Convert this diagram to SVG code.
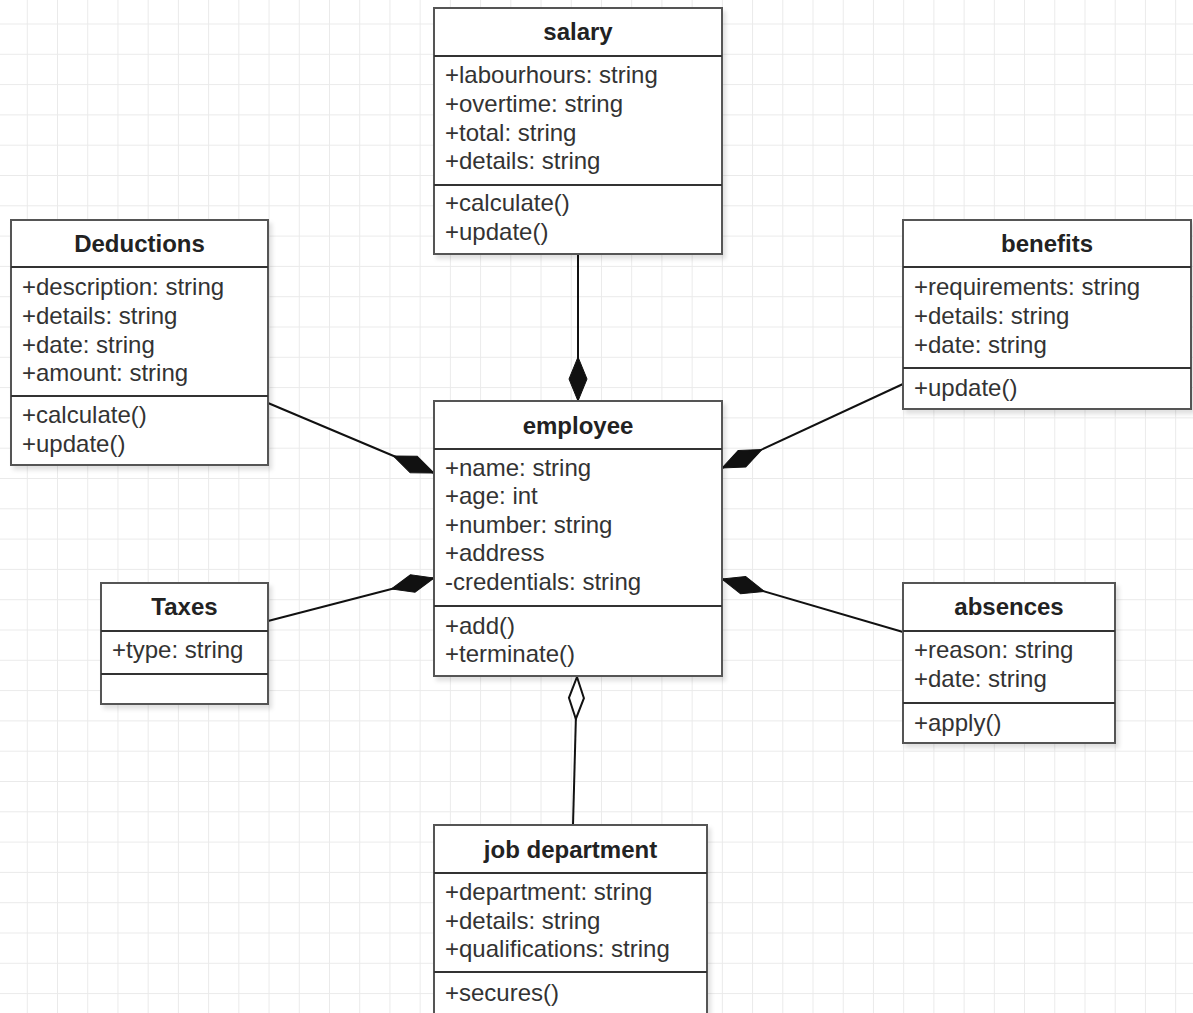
<svg xmlns="http://www.w3.org/2000/svg" width="1193" height="1013" viewBox="0 0 1193 1013">
  <defs>
    <pattern id="grid" patternUnits="userSpaceOnUse" x="26.8" y="23.5" width="30.22" height="30.3">
      <path d="M0,0 V30.3 M0,0 H30.22" fill="none" stroke="#eaeaea" stroke-width="2"/>
    </pattern>
    <filter id="shadow" x="-5%" y="-5%" width="115%" height="115%">
      <feDropShadow dx="3" dy="4" stdDeviation="2" flood-color="#000" flood-opacity="0.12"/>
    </filter>
    <!-- composition: filled diamond at the whole end -->
    <marker id="composite" markerUnits="userSpaceOnUse" viewBox="-2 -11 48 22" markerWidth="48" markerHeight="22" refX="0" refY="0" orient="auto">
      <path d="M0,0 L22,-9 L44,0 L22,9 Z" fill="#111" stroke="#111" stroke-width="1"/>
    </marker>
    <!-- aggregation: hollow diamond at the whole end -->
    <marker id="aggregate" markerUnits="userSpaceOnUse" viewBox="-2 -11 48 22" markerWidth="48" markerHeight="22" refX="0" refY="0" orient="auto">
      <path d="M0,0 L21,-7.5 L42,0 L21,7.5 Z" fill="#fff" stroke="#111" stroke-width="2"/>
    </marker>
  </defs>
  <style>
    .box { fill: #fff; stroke: #555; stroke-width: 2; }
    .sep { stroke: #333; stroke-width: 2; }
    .title { font-family: "Liberation Sans", Arial, sans-serif; font-size: 24px; font-weight: bold; fill: #222; text-anchor: middle; }
    .item { font-family: "Liberation Sans", Arial, sans-serif; font-size: 24px; fill: #333; }
    .link { fill: none; stroke: #111; stroke-width: 2; }
  </style>

  <rect x="0" y="0" width="1193" height="1013" fill="#fff"/>
  <rect x="0" y="0" width="1193" height="1013" fill="url(#grid)"/>

  <!-- connectors: each starts at employee so the diamond sits there -->
  <g id="connectors">
    <path class="link" d="M578,401 L578,254" marker-start="url(#composite)"/>
    <path class="link" d="M434,473 L268,403" marker-start="url(#composite)"/>
    <path class="link" d="M722,468 L903,384" marker-start="url(#composite)"/>
    <path class="link" d="M434,578 L268,621" marker-start="url(#composite)"/>
    <path class="link" d="M722,579 L903,632" marker-start="url(#composite)"/>
    <path class="link" d="M577,677 L573,825" marker-start="url(#aggregate)"/>
  </g>

  <g id="salary">
    <rect class="box" x="434" y="8" width="288" height="246" filter="url(#shadow)"/>
    <line class="sep" x1="434" y1="56" x2="722" y2="56"/>
    <line class="sep" x1="434" y1="185" x2="722" y2="185"/>
    <text class="title" x="578" y="40">salary</text>
    <text class="item" x="445" y="83">+labourhours: string</text>
    <text class="item" x="445" y="112">+overtime: string</text>
    <text class="item" x="445" y="141">+total: string</text>
    <text class="item" x="445" y="169">+details: string</text>
    <text class="item" x="445" y="211">+calculate()</text>
    <text class="item" x="445" y="240">+update()</text>
  </g>

  <g id="deductions">
    <rect class="box" x="11" y="220" width="257" height="245" filter="url(#shadow)"/>
    <line class="sep" x1="11" y1="267" x2="268" y2="267"/>
    <line class="sep" x1="11" y1="396" x2="268" y2="396"/>
    <text class="title" x="139.5" y="252">Deductions</text>
    <text class="item" x="22" y="295">+description: string</text>
    <text class="item" x="22" y="324">+details: string</text>
    <text class="item" x="22" y="353">+date: string</text>
    <text class="item" x="22" y="381">+amount: string</text>
    <text class="item" x="22" y="423">+calculate()</text>
    <text class="item" x="22" y="452">+update()</text>
  </g>

  <g id="benefits">
    <rect class="box" x="903" y="220" width="288" height="189" filter="url(#shadow)"/>
    <line class="sep" x1="903" y1="267" x2="1191" y2="267"/>
    <line class="sep" x1="903" y1="368" x2="1191" y2="368"/>
    <text class="title" x="1047" y="252">benefits</text>
    <text class="item" x="914" y="295">+requirements: string</text>
    <text class="item" x="914" y="324">+details: string</text>
    <text class="item" x="914" y="353">+date: string</text>
    <text class="item" x="914" y="396">+update()</text>
  </g>

  <g id="employee">
    <rect class="box" x="434" y="401" width="288" height="275" filter="url(#shadow)"/>
    <line class="sep" x1="434" y1="449" x2="722" y2="449"/>
    <line class="sep" x1="434" y1="606" x2="722" y2="606"/>
    <text class="title" x="578" y="434">employee</text>
    <text class="item" x="445" y="476">+name: string</text>
    <text class="item" x="445" y="504">+age: int</text>
    <text class="item" x="445" y="533">+number: string</text>
    <text class="item" x="445" y="561">+address</text>
    <text class="item" x="445" y="590">-credentials: string</text>
    <text class="item" x="445" y="634">+add()</text>
    <text class="item" x="445" y="662">+terminate()</text>
  </g>

  <g id="taxes">
    <rect class="box" x="101" y="583" width="167" height="121" filter="url(#shadow)"/>
    <line class="sep" x1="101" y1="631" x2="268" y2="631"/>
    <line class="sep" x1="101" y1="674" x2="268" y2="674"/>
    <text class="title" x="184.5" y="615">Taxes</text>
    <text class="item" x="112" y="658">+type: string</text>
  </g>

  <g id="absences">
    <rect class="box" x="903" y="583" width="212" height="160" filter="url(#shadow)"/>
    <line class="sep" x1="903" y1="631" x2="1115" y2="631"/>
    <line class="sep" x1="903" y1="703" x2="1115" y2="703"/>
    <text class="title" x="1009" y="615">absences</text>
    <text class="item" x="914" y="658">+reason: string</text>
    <text class="item" x="914" y="687">+date: string</text>
    <text class="item" x="914" y="731">+apply()</text>
  </g>

  <g id="job-department">
    <rect class="box" x="434" y="825" width="273" height="215" filter="url(#shadow)"/>
    <line class="sep" x1="434" y1="873" x2="707" y2="873"/>
    <line class="sep" x1="434" y1="972" x2="707" y2="972"/>
    <text class="title" x="570.5" y="858">job department</text>
    <text class="item" x="445" y="900">+department: string</text>
    <text class="item" x="445" y="929">+details: string</text>
    <text class="item" x="445" y="957">+qualifications: string</text>
    <text class="item" x="445" y="1001">+secures()</text>
  </g>
</svg>
